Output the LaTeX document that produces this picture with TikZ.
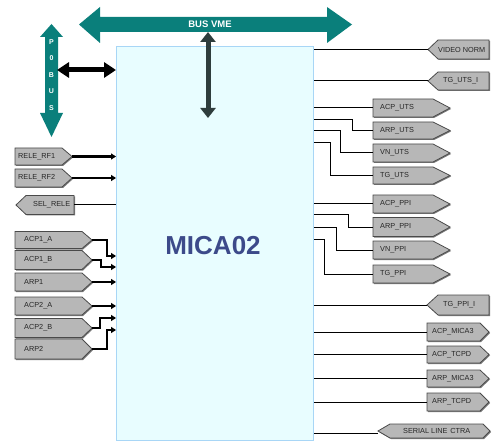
\documentclass[tikz,border=0pt]{standalone}
\usepackage{fontspec}
\setmainfont{Liberation Sans}
\usetikzlibrary{arrows.meta}
\definecolor{busteal}{HTML}{0A7F7B}
\definecolor{darkbar}{HTML}{2E3D3D}
\definecolor{boxfill}{HTML}{E8FDFF}
\definecolor{boxline}{HTML}{A8D6F6}
\definecolor{tagfill}{HTML}{B7B7B7}
\definecolor{tagline}{HTML}{4A4A4A}
\definecolor{tagshade}{HTML}{7A7A7A}
\definecolor{micablue}{HTML}{3C4A8A}
\tikzset{
  tagbox/.style={fill=tagfill,draw=tagline,line width=0.8pt,line join=miter},
  tagshadow/.style={fill=tagshade},
  tagtext/.style={font=\fontsize{7.3}{8}\selectfont,text=black!85,inner sep=0pt},
  wire/.style={draw=black,line width=1pt},
  inwire/.style={draw=black,line width=1.8pt,-{Triangle[length=5pt,width=6pt]}},
  thickin/.style={inwire,line width=2.4pt},
  mainbox/.style={fill=boxfill,draw=boxline,line width=1pt,inner sep=0pt,minimum width=197pt,minimum height=394pt},
  letter/.style={font=\bfseries\fontsize{7}{8}\selectfont,text=white,inner sep=0pt}
}
% right-pointing tag: name, xL, xB, xTip, yc, halfheight, textdx, text
\newcommand\rtag[8]{%
  \fill[tagshadow] (#2+1,#5-#6+1) -- (#3+1,#5-#6+1) -- (#4+1,#5+1) -- (#3+1,#5+#6+1) -- (#2+1,#5+#6+1) -- cycle;
  \draw[tagbox] (#2,#5-#6) -- (#3,#5-#6) -- (#4,#5) -- (#3,#5+#6) -- (#2,#5+#6) -- cycle;
  \node[tagtext,anchor=west] (#1) at (#2+#7,#5) {#8};
  \coordinate (#1-tip) at (#4,#5);
  \coordinate (#1-base) at (#2,#5);
}
% left-pointing tag: name, xTip, xB, xR, yc, halfheight, textdx, text
\newcommand\ltag[8]{%
  \fill[tagshadow] (#2+1,#5+1) -- (#3+1,#5-#6+1) -- (#4+1,#5-#6+1) -- (#4+1,#5+#6+1) -- (#3+1,#5+#6+1) -- cycle;
  \draw[tagbox] (#2,#5) -- (#3,#5-#6) -- (#4,#5-#6) -- (#4,#5+#6) -- (#3,#5+#6) -- cycle;
  \node[tagtext,anchor=west] (#1) at (#3+#7,#5) {#8};
  \coordinate (#1-tip) at (#2,#5);
  \coordinate (#1-base) at (#4,#5);
}
\begin{document}
\begin{tikzpicture}[x=1pt,y=-1pt]
\useasboundingbox (0,0) rectangle (493,441);

% main block
\node[mainbox,anchor=north west] (main) at (116,46) {};
\node[font=\bfseries\fontsize{26}{26}\selectfont,text=micablue,inner sep=0pt] (mica) at (213,246) {MICA02};

% BUS VME
\fill[busteal] (79,24.5) -- (100,7) -- (100,17) -- (327,17) -- (327,7) -- (352,24.5) -- (327,43) -- (327,32) -- (100,32) -- (100,43) -- cycle;
\node[font=\bfseries\fontsize{9.5}{10}\selectfont,text=white,inner sep=0pt] (busvme) at (210,24.5) {BUS VME};
\coordinate (vmebot) at (208,32);
\coordinate (vmeint) at (208,118);
\draw[darkbar,line width=5pt,{Triangle[length=10pt,width=15pt]}-{Triangle[length=10pt,width=15pt]}] (vmebot) -- (vmeint);

% P0 BUS
\fill[busteal] (51.5,24) -- (63,37) -- (58,37) -- (58,113) -- (63,113) -- (51.5,137) -- (40,113) -- (45,113) -- (45,37) -- (40,37) -- cycle;
\node[letter] (pl1) at (51.5,42) {P};
\node[letter] (pl2) at (51.5,58) {0};
\node[letter] (pl3) at (51.5,75) {B};
\node[letter] (pl4) at (51.5,91) {U};
\node[letter] (pl5) at (51.5,108) {S};
\coordinate (p0r) at (57,70);
\draw[black,line width=5pt,{Triangle[length=12pt,width=15pt]}-{Triangle[length=12pt,width=15pt]}] (p0r) -- (main.west |- p0r);

% left tags
\rtag{rf1}{15}{62}{72}{156.5}{8.5}{3}{RELE\_RF1}
\rtag{rf2}{15}{62}{72}{178}{9}{3}{RELE\_RF2}
\ltag{sel}{16}{26}{74}{205}{9.5}{7}{SEL\_RELE}
\rtag{acp1a}{15}{82}{92}{240}{8.5}{9}{ACP1\_A}
\rtag{acp1b}{15}{82}{92}{260}{9.5}{9}{ACP1\_B}
\rtag{arp1}{15}{82}{92}{282}{9}{9}{ARP1}
\rtag{acp2a}{15}{82}{92}{306}{9}{9}{ACP2\_A}
\rtag{acp2b}{15}{82}{92}{328}{9.5}{9}{ACP2\_B}
\rtag{arp2}{15}{82}{92}{349}{10}{9}{ARP2}

\draw[thickin] (rf1-tip) -- (main.west |- rf1-tip);
\draw[thickin] (rf2-tip) -- (main.west |- rf2-tip);
\draw[wire] (sel-base) -- (main.west |- sel-base);
\draw[inwire] (acp1a-tip) -| (107,256) -- (main.west |- 0,256);
\draw[inwire] (acp1b-tip) -| (101,267) -- (main.west |- 0,267);
\draw[thickin] (arp1-tip) -- (main.west |- arp1-tip);
\draw[thickin] (acp2a-tip) -- (main.west |- acp2a-tip);
\draw[inwire] (acp2b-tip) -| (100,318) -- (main.west |- 0,318);
\draw[inwire] (arp2-tip) -| (107,330) -- (main.west |- 0,330);

% right tags
\ltag{video}{428}{438}{489}{49.5}{9.5}{0}{VIDEO NORM}
\ltag{tgutsi}{428}{438}{489}{81}{9}{5}{TG\_UTS\_I}
\rtag{acputs}{373}{433}{450}{108}{9}{7}{ACP\_UTS}
\rtag{arputs}{373}{433}{450}{130.5}{8.5}{7}{ARP\_UTS}
\rtag{vnuts}{373}{433}{450}{153}{9}{7}{VN\_UTS}
\rtag{tguts}{373}{433}{450}{175.5}{8.5}{7}{TG\_UTS}
\rtag{acpppi}{373}{433}{450}{204}{9}{7}{ACP\_PPI}
\rtag{arpppi}{373}{433}{450}{227}{9.5}{7}{ARP\_PPI}
\rtag{vnppi}{373}{433}{450}{250}{9}{7}{VN\_PPI}
\rtag{tgppi}{373}{433}{450}{274}{9}{7}{TG\_PPI}
\ltag{tgppii}{427}{438}{489}{305}{10}{5}{TG\_PPI\_I}
\rtag{acpmica}{427}{480}{489}{332}{9}{5}{ACP\_MICA3}
\rtag{acptcpd}{427}{480}{489}{354.5}{8.5}{5}{ACP\_TCPD}
\rtag{arpmica}{427}{480}{489}{378.5}{8.5}{5}{ARP\_MICA3}
\rtag{arptcpd}{427}{480}{489}{402}{9}{5}{ARP\_TCPD}
% serial line (double pointed)
\fill[tagshadow] (379,432) -- (391,425) -- (484,425) -- (491,432) -- (484,439) -- (391,439) -- cycle;
\draw[tagbox] (378,431) -- (390,424) -- (483,424) -- (490,431) -- (483,438) -- (390,438) -- cycle;
\node[tagtext,anchor=west] (serial) at (403,431) {SERIAL LINE\hspace{3pt}CTRA};
\coordinate (serial-tip) at (378,431);

\draw[wire] (main.east |- video-tip) -- (video-tip);
\draw[wire] (main.east |- tgutsi-tip) -- (tgutsi-tip);
\draw[wire] (main.east |- acputs-base) -- (acputs-base);
\draw[wire] (main.east |- 0,120) -| (352,130.5) -- (arputs-base);
\draw[wire] (main.east |- 0,130.5) -| (340,153) -- (vnuts-base);
\draw[wire] (main.east |- 0,143) -| (330,175.5) -- (tguts-base);
\draw[wire] (main.east |- acpppi-base) -- (acpppi-base);
\draw[wire] (main.east |- 0,215) -| (348,227) -- (arpppi-base);
\draw[wire] (main.east |- 0,227) -| (336,250) -- (vnppi-base);
\draw[wire] (main.east |- 0,239) -| (324,274) -- (tgppi-base);
\draw[wire] (main.east |- tgppii-tip) -- (tgppii-tip);
\draw[wire] (main.east |- acpmica-base) -- (acpmica-base);
\draw[wire] (main.east |- acptcpd-base) -- (acptcpd-base);
\draw[wire] (main.east |- arpmica-base) -- (arpmica-base);
\draw[wire] (main.east |- arptcpd-base) -- (arptcpd-base);
\draw[wire] (main.east |- 0,433) -- (serial-tip |- 0,433);
\end{tikzpicture}
\end{document}
